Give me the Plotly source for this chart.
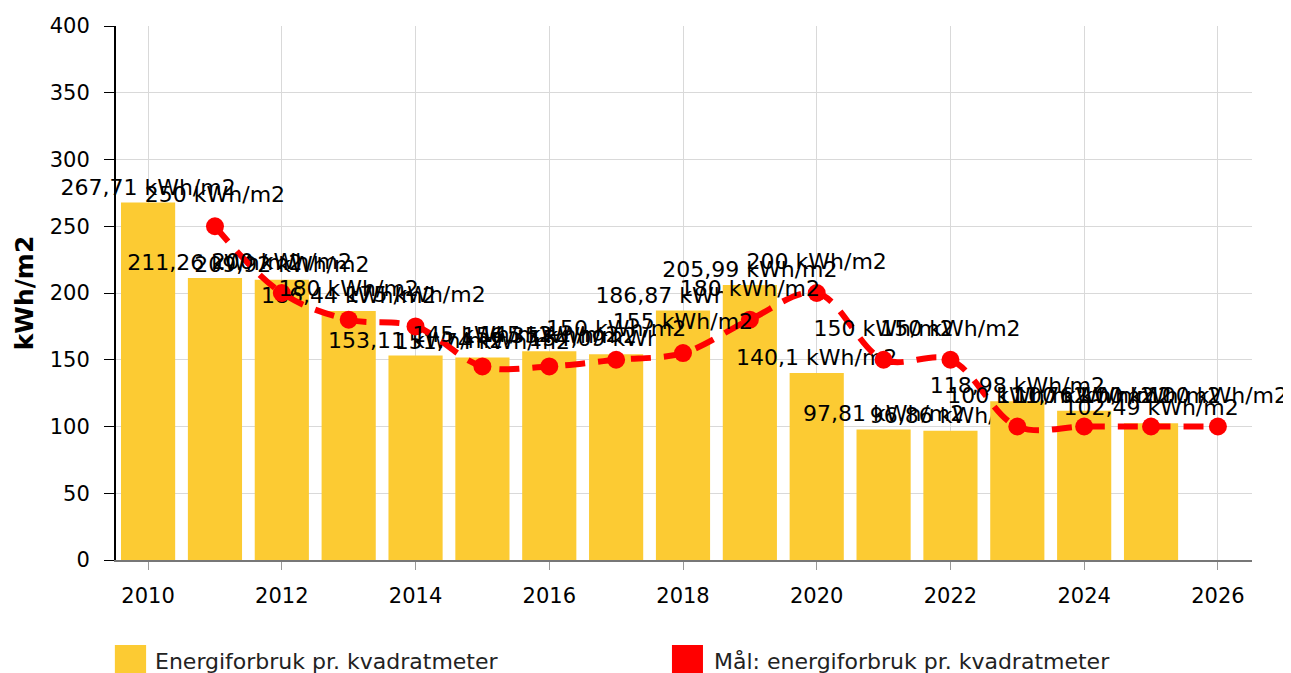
import plotly.graph_objects as go

bar_years = list(range(2010, 2026))
bar_values = [267.71, 211.26, 209.92, 186.44, 153.11, 151.74, 156.35, 154.09,
              186.87, 205.99, 140.1, 97.81, 96.86, 118.98, 111.76, 102.49]
target_years = list(range(2011, 2027))
target_values = [250, 200, 180, 175, 145, 145, 150, 155, 180, 200, 150, 150,
                 100, 100, 100, 100]
y_ticks = [0, 50, 100, 150, 200, 250, 300, 350, 400]
x_ticks = list(range(2010, 2027, 2))

bar_name = "Energiforbruk pr. kvadratmeter"
line_name = "Mål: energiforbruk pr. kvadratmeter"
bar_color = "#FCCB33"
line_color = "#FF0000"
FONT = "DejaVu Sans"


def fmt(v):
    s = f"{v:.2f}".rstrip("0").rstrip(".")
    return s.replace(".", ",") + " kWh/m2"


fig = go.Figure()
fig.add_trace(go.Bar(
    x=bar_years, y=bar_values, name=bar_name,
    marker=dict(color=bar_color, line=dict(width=0)),
    width=0.81,
    text=[fmt(v) for v in bar_values], textposition="outside",
    constraintext="none",
    textfont=dict(family=FONT, size=22, color="#000000"),
    cliponaxis=False, showlegend=False,
))
fig.add_trace(go.Scatter(
    x=target_years, y=target_values, name=line_name,
    mode="lines+markers",
    line=dict(color=line_color, width=6, dash="20px,13px", shape="spline"),
    marker=dict(color=line_color, size=18),
    cliponaxis=False, showlegend=False,
))
# labels of the target line, set a little higher above the markers
fig.add_trace(go.Scatter(
    x=target_years, y=target_values, mode="markers+text",
    marker=dict(color="rgba(0,0,0,0)", size=28),
    text=[fmt(v) for v in target_values], textposition="top center",
    textfont=dict(family=FONT, size=22, color="#000000"),
    cliponaxis=False, showlegend=False, hoverinfo="skip",
))

# custom legend
fig.add_shape(type="rect", xref="paper", yref="paper",
              x0=-0.001, x1=0.0265, y0=-0.222, y1=-0.159,
              fillcolor=bar_color, line=dict(width=0))
fig.add_annotation(xref="paper", yref="paper", x=0.0326, y=-0.19,
                   xanchor="left", yanchor="middle", showarrow=False,
                   text=bar_name, font=dict(family=FONT, size=22, color="#222"))
fig.add_shape(type="rect", xref="paper", yref="paper",
              x0=0.4894, x1=0.5167, y0=-0.222, y1=-0.159,
              fillcolor=line_color, line=dict(width=0))
fig.add_annotation(xref="paper", yref="paper", x=0.5246, y=-0.19,
                   xanchor="left", yanchor="middle", showarrow=False,
                   text=line_name, font=dict(family=FONT, size=22, color="#222"))

fig.update_layout(
    width=1283, height=665,
    margin=dict(l=108, r=39, t=18, b=113),
    plot_bgcolor="#FFFFFF", paper_bgcolor="#FFFFFF",
    font=dict(family=FONT, size=20, color="#000000"),
    bargap=0.19,
)
fig.update_xaxes(
    range=[2009.52, 2026.51], tickvals=x_ticks,
    ticktext=[str(t) for t in x_ticks],
    showgrid=True, gridcolor="#D9D9D9", gridwidth=1,
    showline=True, linecolor="#777777", linewidth=2,
    ticks="outside", ticklen=8, tickcolor="#999999",
    ticklabelstandoff=8,
    tickfont=dict(family=FONT, size=21, color="#000000"),
    zeroline=False, automargin=False,
)
fig.update_yaxes(
    range=[0, 400], tickvals=y_ticks,
    showgrid=True, gridcolor="#D9D9D9", gridwidth=1,
    showline=True, linecolor="#000000", linewidth=2,
    ticks="outside", ticklen=10, tickcolor="#000000",
    ticklabelstandoff=10,
    tickfont=dict(family=FONT, size=21, color="#000000"),
    title=dict(text="<b>kWh/m2</b>", font=dict(family=FONT, size=25, color="#000000"),
               standoff=9),
    zeroline=False, automargin=False,
)

fig.write_html("out.html")
